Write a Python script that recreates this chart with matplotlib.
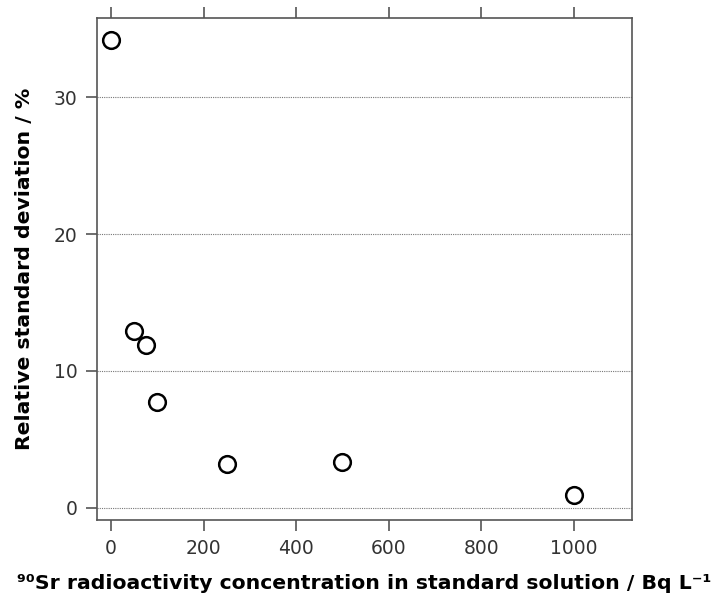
import matplotlib
matplotlib.use("Agg")
import matplotlib.pyplot as plt

concentration = [0, 50, 75, 100, 250, 500, 1000]
rsd = [34.2, 12.9, 11.9, 7.75, 3.2, 3.35, 0.95]
xticks = [0, 200, 400, 600, 800, 1000]
yticks = [0, 10, 20, 30]

plt.rcParams['font.family'] = ['DejaVu Sans']

fig = plt.figure(figsize=(7.26, 6.08), dpi=100)
ax = fig.add_axes([97/726, 1-520/608, (632-97)/726, (520-18)/608])

ax.plot(concentration, rsd, linestyle='none', marker='o', markersize=12,
        markerfacecolor='white', markeredgecolor='black', markeredgewidth=1.8, zorder=3)

ax.set_xlim(-30, 1125)
ax.set_ylim(-0.9, 35.8)
ax.set_xticks(xticks)
ax.set_yticks(yticks)
for y in yticks:
    ax.axhline(y, color='#777777', linestyle=(0, (1, 1)), linewidth=0.8, zorder=1)

for s in ax.spines.values():
    s.set_color('#555555')
    s.set_linewidth(1.2)
ax.tick_params(axis='both', direction='out', length=8, width=1.2, color='#555555',
               labelsize=13.5, labelcolor='#333333', pad=6)
ax.tick_params(axis='x', top=True, labeltop=False)

ax.set_xlabel('⁹⁰Sr radioactivity concentration in standard solution / Bq L⁻¹',
              fontsize=14.7, fontweight='bold', labelpad=11)
ax.set_ylabel('Relative standard deviation / %', fontsize=14.7, fontweight='bold', labelpad=14)

fig.savefig('out.png', dpi=100)
